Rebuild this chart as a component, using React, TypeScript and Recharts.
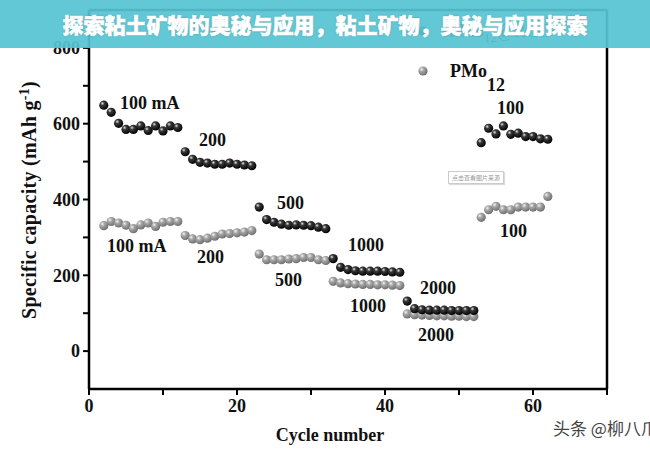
import React from "react";
import {
  ScatterChart,
  Scatter,
  XAxis,
  YAxis,
  ReferenceLine,
} from "recharts";

// cycle numbers 2..62
const cycles = [
  2, 3, 4, 5, 6, 7, 8, 9, 10, 11, 12,
  13, 14, 15, 16, 17, 18, 19, 20, 21, 22,
  23, 24, 25, 26, 27, 28, 29, 30, 31, 32,
  33, 34, 35, 36, 37, 38, 39, 40, 41, 42,
  43, 44, 45, 46, 47, 48, 49, 50, 51, 52,
  53, 54, 55, 56, 57, 58, 59, 60, 61, 62,
];

// PMo12@RGO (black spheres)
const compositeCapacity = [
  649, 630, 601, 585, 585, 594, 582, 594, 581, 594, 590,
  526, 506, 498, 496, 493, 493, 496, 493, 491, 489,
  380, 347, 340, 335, 332, 333, 332, 331, 327, 323,
  244, 221, 215, 212, 211, 211, 211, 210, 209, 208,
  132, 112, 109, 108, 108, 108, 107, 107, 107, 107,
  550, 588, 573, 594, 572, 575, 566, 566, 560, 559,
];

// PMo12 (gray spheres)
const pmoCapacity = [
  331, 342, 338, 332, 323, 333, 338, 329, 340, 342, 342,
  305, 296, 294, 298, 303, 309, 310, 312, 314, 318,
  256, 241, 241, 241, 243, 244, 247, 247, 241, 239,
  184, 180, 178, 177, 176, 176, 175, 175, 174, 173,
  98, 96, 95, 94, 93, 93, 92, 92, 91, 91,
  353, 373, 382, 373, 373, 380, 380, 380, 380, 408,
];

const xTicks = [0, 10, 20, 30, 40, 50, 60, 70];
const yTicks = [0, 100, 200, 300, 400, 500, 600, 700, 800];

const blackLabels = [
  { text: "100 mA", left: 120, top: 92 },
  { text: "200", left: 199, top: 129 },
  { text: "500", left: 277, top: 192 },
  { text: "1000", left: 348, top: 234 },
  { text: "2000", left: 420, top: 277 },
  { text: "100", left: 497, top: 97 },
];
const grayLabels = [
  { text: "100 mA", left: 107, top: 235 },
  { text: "200", left: 197, top: 246 },
  { text: "500", left: 275, top: 269 },
  { text: "1000", left: 350, top: 295 },
  { text: "2000", left: 418, top: 324 },
  { text: "100", left: 500, top: 220 },
];

const compositeData = cycles.map((c, i) => ({ x: c, y: compositeCapacity[i] }));
const pmoData = cycles.map((c, i) => ({ x: c, y: pmoCapacity[i] }));

const serif = "'Liberation Serif', 'DejaVu Serif', serif";
const cjk = "'Noto Sans CJK SC', sans-serif";

const Ball = (fill: string) => (props: any) => {
  const { cx, cy } = props;
  if (cx == null || cy == null) return null;
  return <circle cx={cx} cy={cy} r={4.6} fill={fill} />;
};

const tickStyle = { fontFamily: serif, fontWeight: 700, fontSize: 18, fill: "#111" };

export default function App() {
  return (
    <div
      style={{
        position: "absolute",
        left: 0,
        top: 0,
        width: 650,
        height: 450,
        background: "#fff",
        overflow: "hidden",
        fontFamily: serif,
      }}
    >
      <ScatterChart
        width={650}
        height={450}
        margin={{ top: 10, right: 43, bottom: 31, left: 29 }}
      >
        <defs>
          <radialGradient id="ballBlack" cx="35%" cy="32%" r="70%">
            <stop offset="0%" stopColor="#e8e8e8" />
            <stop offset="30%" stopColor="#3a3a3a" />
            <stop offset="100%" stopColor="#000" />
          </radialGradient>
          <radialGradient id="ballGray" cx="35%" cy="32%" r="70%">
            <stop offset="0%" stopColor="#f2f2f2" />
            <stop offset="35%" stopColor="#a6a6a6" />
            <stop offset="100%" stopColor="#6e6e6e" />
          </radialGradient>
        </defs>
        <XAxis
          type="number"
          dataKey="x"
          domain={[0, 70]}
          ticks={xTicks}
          interval={0}
          height={30}
          tickFormatter={(v: number) => (v % 20 === 0 && v < 70 ? String(v) : "")}
          axisLine={{ stroke: "#000", strokeWidth: 2.5 }}
          tickLine={{ stroke: "#000", strokeWidth: 2 }}
          tickSize={6}
          tickMargin={4}
          tick={tickStyle}
        />
        <YAxis
          type="number"
          dataKey="y"
          domain={[-100, 900]}
          ticks={yTicks}
          interval={0}
          width={60}
          tickFormatter={(v: number) => (v % 200 === 0 ? String(v) : "")}
          axisLine={{ stroke: "#000", strokeWidth: 2.5 }}
          tickLine={{ stroke: "#000", strokeWidth: 2 }}
          tickSize={6}
          tickMargin={3}
          tick={tickStyle}
        />
        <ReferenceLine y={900} stroke="#000" strokeWidth={2.5} />
        <ReferenceLine x={70} stroke="#000" strokeWidth={2.5} />
        <Scatter
          data={pmoData}
          shape={Ball("url(#ballGray)")}
          isAnimationActive={false}
        />
        <Scatter
          data={compositeData}
          shape={Ball("url(#ballBlack)")}
          isAnimationActive={false}
        />
      </ScatterChart>

      {/* rate annotations */}
      {blackLabels.concat(grayLabels).map((l, i) => (
        <div
          key={i}
          style={{
            position: "absolute",
            left: l.left,
            top: l.top,
            fontSize: 18,
            fontWeight: 700,
            color: "#111",
            lineHeight: "22px",
            whiteSpace: "nowrap",
          }}
        >
          {l.text}
        </div>
      ))}

      {/* legend */}
      <svg style={{ position: "absolute", left: 417, top: 25 }} width={14} height={60}>
        <circle cx={6} cy={6} r={4.6} fill="url(#ballBlack)" />
        <circle cx={6} cy={46} r={4.6} fill="url(#ballGray)" />
      </svg>
      <div style={{ position: "absolute", left: 449, top: 20, fontSize: 18, color: "#222", whiteSpace: "nowrap", lineHeight: "22px" }}>
        PMo<sub style={{ fontSize: 13 }}>12</sub>@RGO
      </div>
      <div style={{ position: "absolute", left: 450, top: 60, fontSize: 18, fontWeight: 700, color: "#111", whiteSpace: "nowrap", lineHeight: "22px" }}>
        PMo
        <span style={{ position: "relative", top: 14, marginLeft: 0 }}>12</span>
      </div>

      {/* axis titles */}
      <div
        style={{
          position: "absolute",
          left: 330,
          top: 435,
          transform: "translate(-50%, -50%)",
          fontSize: 18,
          fontWeight: 700,
          color: "#111",
          whiteSpace: "nowrap",
        }}
      >
        Cycle number
      </div>
      <div
        style={{
          position: "absolute",
          left: 29,
          top: 200,
          transform: "translate(-50%, -50%) rotate(-90deg)",
          fontSize: 20,
          fontWeight: 700,
          color: "#111",
          whiteSpace: "nowrap",
          letterSpacing: 0.3,
        }}
      >
        Specific capacity (mAh g
        <sup style={{ fontSize: 14 }}>-1</sup>)
      </div>

      {/* image source tag */}
      <div
        style={{
          position: "absolute",
          left: 448,
          top: 171,
          border: "1px solid #ccc",
          boxShadow: "1px 1px 1px #ddd",
          fontSize: 6,
          color: "#999",
          padding: "1px 3px",
          fontFamily: cjk,
          background: "#fff",
        }}
      >
        点击查看图片来源
      </div>

      {/* banner */}
      <div
        style={{
          position: "absolute",
          left: 0,
          top: 0,
          width: 650,
          height: 48,
          background: "rgba(86, 196, 211, 0.93)",
          color: "#fff",
          fontFamily: cjk,
          fontWeight: 900,
          fontSize: 21,
          lineHeight: "48px",
          textAlign: "center",
          textShadow: "0 0 2px rgba(0,0,0,0.3)",
          WebkitTextStroke: "0.6px #fff",
          whiteSpace: "nowrap",
        }}
      >
        探索粘土矿物的奥秘与应用，粘土矿物，奥秘与应用探索
      </div>

      {/* watermark */}
      <div
        style={{
          position: "absolute",
          left: 553,
          top: 415,
          fontFamily: cjk,
          fontSize: 17,
          color: "#444",
          whiteSpace: "nowrap",
        }}
      >
        头条 @柳八爪
      </div>
    </div>
  );
}
